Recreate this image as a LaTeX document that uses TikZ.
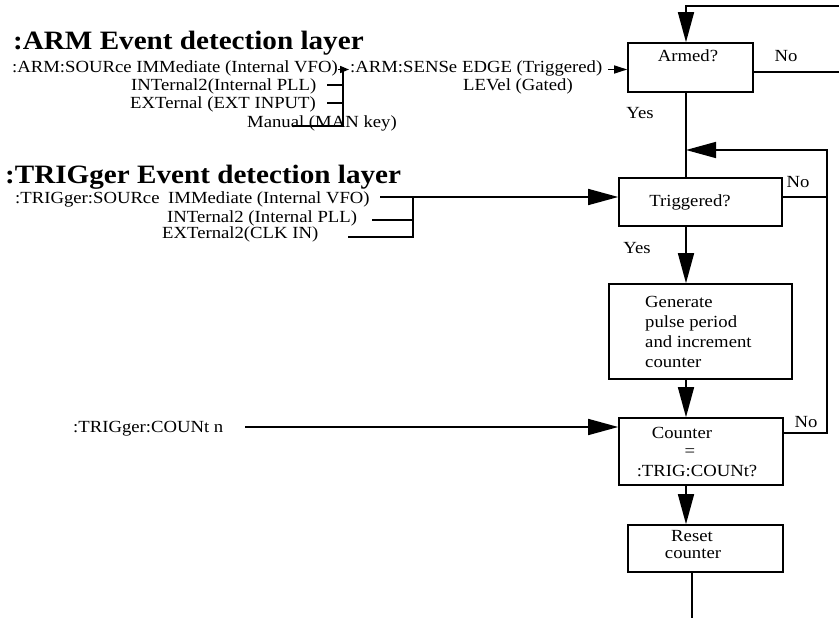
\documentclass[tikz,border=0pt]{standalone}
\usepackage{fontspec}
\setmainfont{Liberation Serif}[FakeStretch=1.1]
\usetikzlibrary{arrows.meta}
\tikzset{
  txt/.style={anchor=base west, inner sep=0pt, font=\fontsize{17}{20}\selectfont},
  ctxt/.style={anchor=base, inner sep=0pt, font=\fontsize{17}{20}\selectfont},
  ttl/.style={anchor=base west, inner sep=0pt, font=\fontsize{26.5}{30}\selectfont\bfseries},
  box/.style={draw, line width=1.6pt, inner sep=0pt},
  ln/.style={line width=1.6pt},
  bigarrow/.style={line width=1.6pt, -{Triangle[length=30pt,width=16pt]}},
  smallarrow/.style={line width=1.6pt, -{Triangle[length=9pt,width=7pt]}}
}
\begin{document}
\begin{tikzpicture}[x=1pt,y=-1pt]
\useasboundingbox (0,0) rectangle (839,618);
% ---------- flowchart boxes ----------
\node[box, minimum width=125pt, minimum height=49pt] (armed) at (690.5,67.5) {};
\node[box, minimum width=163pt, minimum height=48pt] (trig) at (700.5,202) {};
\node[box, minimum width=183pt, minimum height=95pt] (gen) at (700.5,331.5) {};
\node[box, minimum width=164pt, minimum height=67pt] (cntbox) at (701,451.5) {};
\node[box, minimum width=155pt, minimum height=47pt] (reset) at (705.5,548.5) {};
% box texts
\node[ctxt] (armedtxt) at (688,62) {Armed?};
\node[ctxt] (trigtxt) at (690,206) {Triggered?};
\node[txt] (gen1) at (645,307) {Generate};
\node[txt] (gen2) at (645,327) {pulse period};
\node[txt] (gen3) at (645,347) {and increment};
\node[txt] (gen4) at (645,367) {counter};
\node[ctxt] (cnt1) at (682,438) {Counter};
\node[ctxt] (cnt2) at (690,456) {=};
\node[ctxt] (cnt3) at (697,476) {:TRIG:COUNt?};
\node[ctxt] (res1) at (692,541) {Reset};
\node[ctxt] (res2) at (693,558) {counter};
% decision labels
\node[ctxt] (armno) at (786,62) {No};
\node[ctxt] (armyes) at (640,118) {Yes};
\node[ctxt] (trigno) at (798,187) {No};
\node[ctxt] (trigyes) at (637,253) {Yes};
\node[ctxt] (cntno) at (806,427) {No};
% ---------- helper coordinates ----------
\coordinate (spine) at (686,0);
\coordinate (topR) at (839,6);
\coordinate (armNoR) at (839,72);
\coordinate (loopC) at (827,150);
\coordinate (trigNoR) at (827,197);
\coordinate (cntNoR) at (827,433);
\coordinate (resx) at (692,0);
\coordinate (bottom) at (692,618);
% ---------- flowchart connectors ----------
\draw[bigarrow] (topR) -| (armed.north -| spine);
\draw[ln] (armNoR -| armed.east) -- (armNoR);
\draw[ln] (armed.south -| spine) -- (trig.north -| spine);
\draw[bigarrow] (cntNoR -| cntbox.east) -- (cntNoR) -- (loopC) -- (loopC -| spine);
\draw[ln] (trigNoR -| trig.east) -- (trigNoR);
\draw[bigarrow] (trig.south -| spine) -- (gen.north -| spine);
\draw[bigarrow] (gen.south -| spine) -- (cntbox.north -| spine);
\draw[bigarrow] (cntbox.south -| spine) -- (reset.north -| spine);
\draw[ln] (reset.south -| resx) -- (bottom);
% ---------- ARM layer ----------
\node[ttl] (armtitle) at (13,50) {:ARM Event detection layer};
\node[txt] (armsrc) at (12,73) {:ARM:SOURce IMMediate (Internal VFO)};
\node[txt] (armint) at (131,91) {INTernal2(Internal PLL)};
\node[txt] (armext) at (130,109) {EXTernal (EXT INPUT)};
\node[txt] (armman) at (247,128) {Manual (MAN key)};
\node[txt] (armsens) at (350,73) {:ARM:SENSe};
\node[txt] (armedge) at (462,73) {EDGE (Triggered)};
\node[txt] (armlev) at (463,91) {LEVel (Gated)};
\coordinate (aS) at (338,69.5);
\coordinate (aE) at (349,69.5);
\coordinate (aJ) at (343,69.5);
\coordinate (aJ2) at (343,85);
\coordinate (aJ3) at (343,103);
\coordinate (aJ4) at (343,126);
\coordinate (ai) at (327,85);
\coordinate (ae) at (327,103);
\coordinate (am) at (292,126);
\coordinate (senseS) at (608,69.5);
\draw[smallarrow] (aS) -- (aE);
\draw[ln] (aJ) -- (aJ4) -- (am);
\draw[ln] (ai) -- (aJ2);
\draw[ln] (ae) -- (aJ3);
\draw[line width=1.6pt, -{Triangle[length=13pt,width=8pt]}] (senseS) -- (senseS -| armed.west);
% ---------- TRIGger layer ----------
\node[ttl] (trigtitle) at (5,183) {:TRIGger Event detection layer};
\node[txt] (trigsrc) at (15,203) {:TRIGger:SOURce};
\node[txt] (trigimm) at (168,203) {IMMediate (Internal VFO)};
\node[txt] (trigint) at (167,222) {INTernal2 (Internal PLL)};
\node[txt] (trigext) at (162,238) {EXTernal2(CLK IN)};
\coordinate (t1) at (380,197);
\coordinate (tb1) at (413,197);
\coordinate (t2) at (372,220);
\coordinate (tb2) at (413,220);
\coordinate (t3) at (348,237);
\coordinate (tb3) at (413,237);
\draw[bigarrow] (t1) -- (t1 -| trig.west);
\draw[ln] (tb1) -- (tb3) -- (t3);
\draw[ln] (t2) -- (tb2);
% ---------- count ----------
\node[txt] (cnt) at (73,432) {:TRIGger:COUNt n};
\coordinate (c1) at (245,427);
\draw[bigarrow] (c1) -- (c1 -| cntbox.west);
\end{tikzpicture}
\end{document}
